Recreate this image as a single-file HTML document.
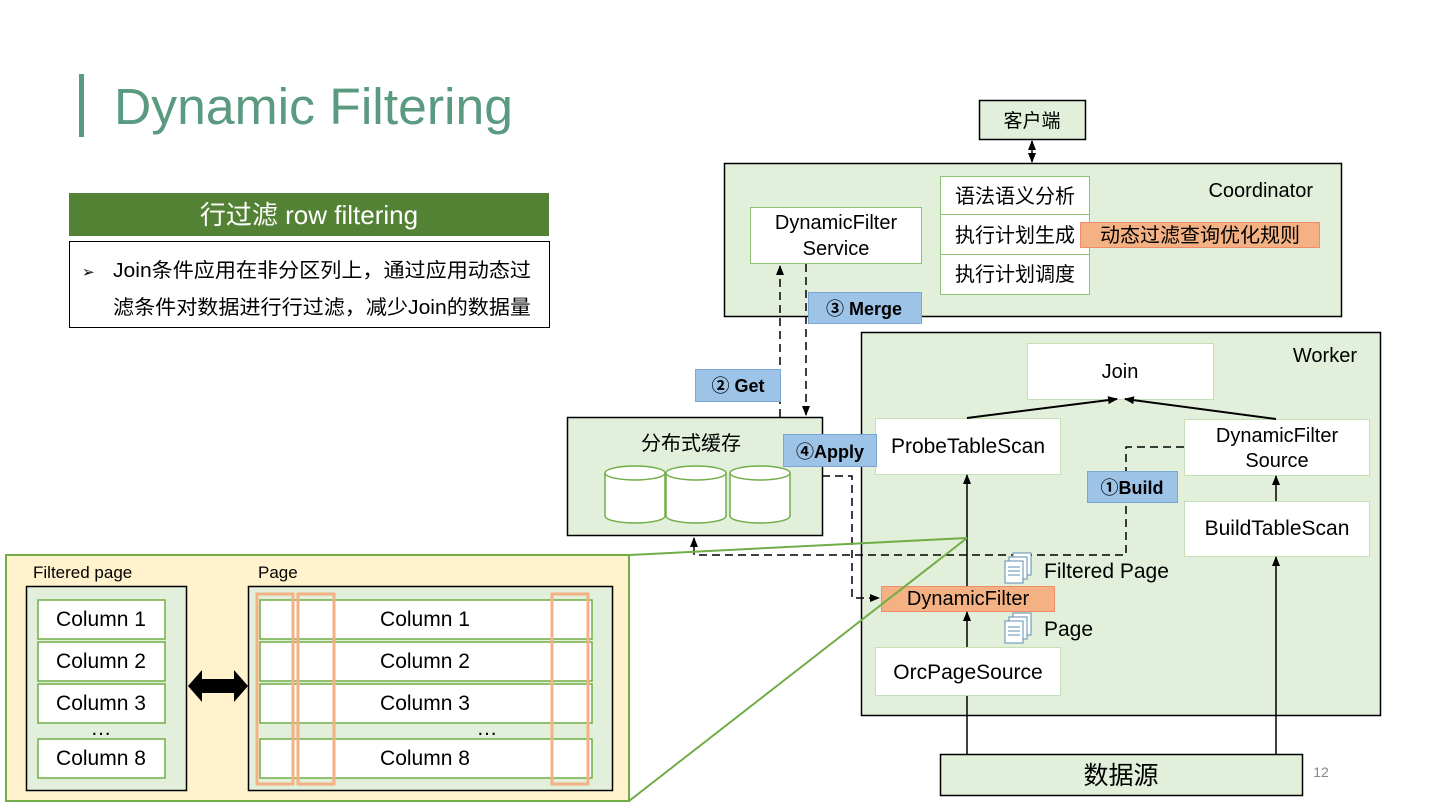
<!DOCTYPE html>
<html><head><meta charset="utf-8"><style>
html,body{margin:0;padding:0;background:#fff;}
svg{display:block;}
text{font-family:"Liberation Sans","Noto Sans CJK SC",sans-serif;fill:#000;}
</style></head><body>
<svg width="1440" height="810" viewBox="0 0 1440 810" xmlns="http://www.w3.org/2000/svg">
<defs>
<marker id="ar" markerWidth="10" markerHeight="10" refX="9" refY="5" orient="auto" markerUnits="userSpaceOnUse"><path d="M0,1 L10,5 L0,9 z" fill="#000"/></marker>
<marker id="ars" markerWidth="10" markerHeight="10" refX="1" refY="5" orient="auto" markerUnits="userSpaceOnUse"><path d="M10,1 L0,5 L10,9 z" fill="#000"/></marker>
</defs>
<!-- title -->
<rect x="79" y="74" width="5" height="63" fill="#5a9a80"/>
<text x="114" y="124" font-size="51" style="fill:#5a9a80" textLength="399" lengthAdjust="spacingAndGlyphs">Dynamic Filtering</text>
<rect x="69" y="193" width="480" height="43" fill="#548235"/>
<text x="309" y="224" font-size="26" text-anchor="middle" style="fill:#fff">行过滤 row filtering</text>
<rect x="69.5" y="241.5" width="480" height="86" fill="#fff" stroke="#000"/>
<text x="82" y="277" font-size="15">➢</text>
<text x="113" y="277" font-size="20" textLength="418" lengthAdjust="spacingAndGlyphs">Join条件应用在非分区列上，通过应用动态过</text>
<text x="113" y="314" font-size="20" textLength="418" lengthAdjust="spacingAndGlyphs">滤条件对数据进行行过滤，减少Join的数据量</text>

<!-- client -->
<rect x="979.5" y="100.5" width="106" height="39" fill="#e2efda" stroke="#000" stroke-width="1.5"/>
<text x="1032" y="127" font-size="19" text-anchor="middle">客户端</text>
<line x1="1032" y1="141" x2="1032" y2="162" stroke="#000" stroke-width="1.5" marker-end="url(#ar)" marker-start="url(#ars)"/>

<!-- coordinator -->
<rect x="724.5" y="163.5" width="617" height="153" fill="#e2efda" stroke="#000" stroke-width="1.5"/>
<text x="1313" y="197" font-size="20" text-anchor="end">Coordinator</text>
<rect x="750.5" y="207.5" width="171" height="56" fill="#fff" stroke="#8cc270"/>
<text x="836" y="229" font-size="20" text-anchor="middle">DynamicFilter</text>
<text x="836" y="255" font-size="20" text-anchor="middle">Service</text>
<rect x="940.5" y="176.5" width="149" height="38" fill="#fff" stroke="#8cc270"/>
<rect x="940.5" y="214.5" width="149" height="40" fill="#fff" stroke="#8cc270"/>
<rect x="940.5" y="254.5" width="149" height="40" fill="#fff" stroke="#8cc270"/>
<text x="1015" y="203" font-size="20" text-anchor="middle">语法语义分析</text>
<text x="1015" y="242" font-size="20" text-anchor="middle">执行计划生成</text>
<text x="1015" y="281" font-size="20" text-anchor="middle">执行计划调度</text>
<rect x="1080.5" y="222.5" width="239" height="25" fill="#f4b183" stroke="#f08c6a"/>
<text x="1200" y="242" font-size="20" text-anchor="middle">动态过滤查询优化规则</text>

<!-- worker -->
<rect x="861.5" y="332.5" width="519" height="383" fill="#e2efda" stroke="#000" stroke-width="1.5"/>
<text x="1357" y="362" font-size="20" text-anchor="end">Worker</text>
<rect x="1027.5" y="343.5" width="186" height="56" fill="#fff" stroke="#c5e0b4"/>
<text x="1120" y="378" font-size="20" text-anchor="middle">Join</text>
<rect x="875.5" y="418.5" width="185" height="56" fill="#fff" stroke="#c5e0b4"/>
<text x="968" y="453" font-size="21" text-anchor="middle">ProbeTableScan</text>
<rect x="1184.5" y="419.5" width="185" height="56" fill="#fff" stroke="#c5e0b4"/>
<text x="1277" y="442" font-size="20" text-anchor="middle">DynamicFilter</text>
<text x="1277" y="467" font-size="20" text-anchor="middle">Source</text>
<rect x="1184.5" y="501.5" width="185" height="55" fill="#fff" stroke="#c5e0b4"/>
<text x="1277" y="535" font-size="21" text-anchor="middle">BuildTableScan</text>
<rect x="875.5" y="647.5" width="185" height="48" fill="#fff" stroke="#c5e0b4"/>
<text x="968" y="679" font-size="21" text-anchor="middle">OrcPageSource</text>
<rect x="881.5" y="586.5" width="173" height="25" fill="#f4b183" stroke="#f08c6a"/>
<text x="968" y="605" font-size="20" text-anchor="middle">DynamicFilter</text>

<!-- solid arrows -->
<line x1="967" y1="418" x2="1117" y2="399" stroke="#000" stroke-width="2" marker-end="url(#ar)"/>
<line x1="1276" y1="419" x2="1125" y2="399" stroke="#000" stroke-width="2" marker-end="url(#ar)"/>
<line x1="967" y1="586" x2="967" y2="475" stroke="#000" stroke-width="1.5" marker-end="url(#ar)"/>
<line x1="967" y1="647" x2="967" y2="612" stroke="#000" stroke-width="1.5" marker-end="url(#ar)"/>
<line x1="967" y1="754" x2="967" y2="696" stroke="#000" stroke-width="1.5"/>
<line x1="1276" y1="501" x2="1276" y2="476" stroke="#000" stroke-width="1.5" marker-end="url(#ar)"/>
<line x1="1276" y1="754" x2="1276" y2="557" stroke="#000" stroke-width="1.5" marker-end="url(#ar)"/>

<!-- cache -->
<rect x="567.5" y="417.5" width="255" height="118" fill="#e2efda" stroke="#000" stroke-width="1.5"/>
<text x="691" y="450" font-size="20" text-anchor="middle">分布式缓存</text>
<g fill="#fff" stroke="#70ad47" stroke-width="1.5">
<path d="M605,473 v43 a30,7 0 0 0 60,0 v-43"/><ellipse cx="635" cy="473" rx="30" ry="7"/>
<path d="M666,473 v43 a30,7 0 0 0 60,0 v-43"/><ellipse cx="696" cy="473" rx="30" ry="7"/>
<path d="M730,473 v43 a30,7 0 0 0 60,0 v-43"/><ellipse cx="760" cy="473" rx="30" ry="7"/>
</g>

<!-- dashed -->
<g stroke="#000" stroke-width="1.5" stroke-dasharray="8,5" fill="none">
<line x1="780" y1="417" x2="780" y2="266" marker-end="url(#ar)"/>
<line x1="806" y1="264" x2="806" y2="415" marker-end="url(#ar)"/>
<polyline points="822,476 852,476 852,598 879,598" marker-end="url(#ar)"/>
<polyline points="1184,447 1126,447 1126,555 694,555 694,538" marker-end="url(#ar)"/>
</g>

<!-- labels -->
<g fill="#9dc3e6" stroke="#7aa6d6">
<rect x="808.5" y="292.5" width="113" height="31"/>
<rect x="695.5" y="369.5" width="85" height="32"/>
<rect x="783.5" y="434.5" width="93" height="32"/>
<rect x="1087.5" y="471.5" width="90" height="31"/>
</g>
<text x="864" y="315" font-size="18" font-weight="bold" text-anchor="middle">③ Merge</text>
<text x="738" y="392" font-size="18" font-weight="bold" text-anchor="middle">② Get</text>
<text x="830" y="458" font-size="18" font-weight="bold" text-anchor="middle">④Apply</text>
<text x="1132" y="494" font-size="18" font-weight="bold" text-anchor="middle">①Build</text>

<!-- page icons -->
<g fill="#fff" stroke="#5b8fb0" stroke-width="1">
<rect x="1013" y="553" width="18" height="22"/><rect x="1009" y="557" width="18" height="22"/><rect x="1005" y="561" width="18" height="22"/>
<rect x="1013" y="613" width="18" height="22"/><rect x="1009" y="617" width="18" height="22"/><rect x="1005" y="621" width="18" height="22"/>
</g>
<g stroke="#5b8fb0"><line x1="1008" y1="567" x2="1020" y2="567"/><line x1="1008" y1="571" x2="1020" y2="571"/><line x1="1008" y1="575" x2="1020" y2="575"/><line x1="1008" y1="627" x2="1020" y2="627"/><line x1="1008" y1="631" x2="1020" y2="631"/><line x1="1008" y1="635" x2="1020" y2="635"/></g>
<text x="1044" y="578" font-size="21">Filtered Page</text>
<text x="1044" y="636" font-size="21">Page</text>

<!-- datasource -->
<rect x="940.5" y="754.5" width="362" height="41" fill="#e2efda" stroke="#000" stroke-width="1.5"/>
<text x="1121" y="784" font-size="25" text-anchor="middle">数据源</text>
<text x="1321" y="777" font-size="14" text-anchor="middle" style="fill:#888">12</text>

<!-- lower panel -->
<rect x="6" y="555" width="623" height="246" fill="#fff2cc" stroke="#70ad47" stroke-width="2"/>
<text x="33" y="578" font-size="17">Filtered page</text>
<text x="258" y="578" font-size="17">Page</text>
<rect x="26.5" y="586.5" width="160" height="204" fill="#e2efda" stroke="#000" stroke-width="1.5"/>
<rect x="248.5" y="586.5" width="364" height="204" fill="#e2efda" stroke="#000" stroke-width="1.5"/>
<g fill="#fff" stroke="#70ad47" stroke-width="1.5">
<rect x="38" y="600" width="127" height="39"/><rect x="38" y="642" width="127" height="39"/><rect x="38" y="684" width="127" height="39"/><rect x="38" y="739" width="127" height="39"/>
<rect x="260" y="600" width="332" height="39"/><rect x="260" y="642" width="332" height="39"/><rect x="260" y="684" width="332" height="39"/><rect x="260" y="739" width="332" height="39"/>
</g>
<g font-size="21" text-anchor="middle">
<text x="101" y="626">Column 1</text><text x="101" y="668">Column 2</text><text x="101" y="710">Column 3</text><text x="101" y="735">…</text><text x="101" y="765">Column 8</text>
<text x="425" y="626">Column 1</text><text x="425" y="668">Column 2</text><text x="425" y="710">Column 3</text><text x="487" y="735">…</text><text x="425" y="765">Column 8</text>
</g>
<g fill="none" stroke="#f4b183" stroke-width="3">
<rect x="257" y="594" width="36" height="190"/><rect x="298" y="594" width="36" height="190"/><rect x="552" y="594" width="36" height="190"/>
</g>
<path d="M188,686 L202,670 L202,679 L234,679 L234,670 L248,686 L234,702 L234,693 L202,693 L202,702 Z" fill="#000"/>
<line x1="629" y1="555" x2="967" y2="538" stroke="#70ad47" stroke-width="2"/>
<line x1="629" y1="801" x2="967" y2="538" stroke="#70ad47" stroke-width="2"/>
</svg>
</body></html>
